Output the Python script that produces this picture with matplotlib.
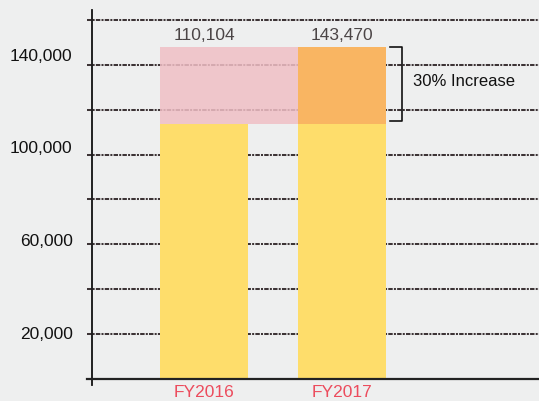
import matplotlib
matplotlib.use("Agg")
import matplotlib.pyplot as plt
from matplotlib.lines import Line2D
from matplotlib.patches import Rectangle
import numpy as np

# ---- data ----
categories = ["FY2016", "FY2017"]
values = [110104, 143470]
value_labels = ["110,104", "143,470"]
ytick_values = [20000, 60000, 100000, 140000]
ytick_labels = ["20,000", "60,000", "100,000", "140,000"]
increase_label = "30% Increase"

# ---- style ----
BG = "#eeefef"
YELLOW = "#fedd6b"
ORANGE = "#f9b562"
PINK = "#f0bfc5"
GRID = "#3d3436"
RED = "#ec4c5d"
FONT = "Liberation Sans"

W, H = 539, 401
fig = plt.figure(figsize=(W / 100, H / 100), dpi=100)
fig.patch.set_facecolor(BG)

left_px, right_px, top_px, bottom_px = 92, 539, 10, 379
ax = fig.add_axes([left_px / W, (H - bottom_px) / H,
                   (right_px - left_px) / W, (bottom_px - top_px) / H])
ax.set_facecolor("none")

x = np.arange(len(categories))
bar_w = 88 / 138
units_per_px = values[0] / 255.0
ax.set_ylim(0, (bottom_px - top_px) * units_per_px)
ax.set_xlim(-(204 - left_px) / 138, (right_px - 204) / 138)

# decorative dash-dot gridlines (in axes fraction)
for k in range(8):
    yf = (45 + k * 44.86) / (bottom_px - top_px)
    ax.add_line(Line2D([-5 / 447, 1], [yf, yf], transform=ax.transAxes,
                       color=GRID, lw=1.45, dashes=(2.2, 0.6, 1.0, 0.6),
                       clip_on=False, zorder=1))

# pink increase band spanning both bars
ax.add_patch(Rectangle((x[0] - bar_w / 2, values[0]),
                       (x[1] - x[0]) + bar_w, values[1] - values[0],
                       facecolor=PINK, alpha=0.85, edgecolor="none", zorder=1.5))

# bars
ax.bar(x, [values[0], values[0]], width=bar_w, color=YELLOW, zorder=2)
ax.bar(x[1], values[1] - values[0], bottom=values[0], width=bar_w,
       color=ORANGE, zorder=2)

# value labels above
for xi, lab in zip(x, value_labels):
    ax.annotate(lab, (xi, max(values)), xytext=(0, 4.5), textcoords="offset points",
                ha="center", va="baseline", fontsize=12.5, color="#4b4546",
                family=FONT)

# bracket
bx = x[1] + (402 - 342) / 138
arm = 12 / 138
b_top = values[1]
b_bot = values[0] + 3 * units_per_px
ax.plot([bx - arm, bx, bx, bx - arm], [b_top, b_top, b_bot, b_bot],
        color="#111111", lw=1.2, zorder=3, clip_on=False)
ax.text(bx + 11 / 138, (b_top + b_bot) / 2 + 2.5 * units_per_px, increase_label,
        ha="left", va="center", fontsize=12, color="#111111", family=FONT)

# axes lines
for s in ax.spines.values():
    s.set_visible(False)
ax.add_line(Line2D([0, 0], [-6 / 369, 1], transform=ax.transAxes,
                   color="#111111", lw=1.3, clip_on=False, zorder=4))
ax.add_line(Line2D([-5 / 447, 1], [0, 0], transform=ax.transAxes,
                   color="#222222", lw=1.6, clip_on=False, zorder=4))

ax.set_xticks(x)
ax.set_xticklabels(categories, fontsize=12.5, color=RED, family=FONT)
ax.set_yticks(ytick_values)
ax.set_yticklabels(ytick_labels, fontsize=12.5, color="#111111", family=FONT)
ax.tick_params(axis="x", length=0, pad=4)
ax.tick_params(axis="y", length=0, pad=14)

fig.savefig("out.png", dpi=100, facecolor=BG)
